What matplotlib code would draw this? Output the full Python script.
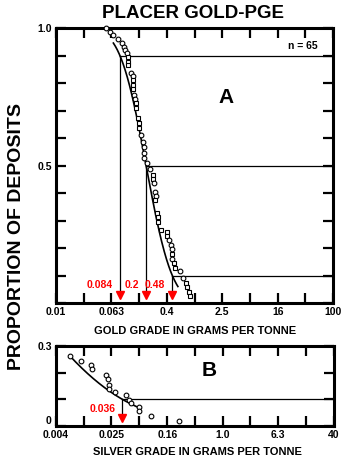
import math
import numpy as np
import matplotlib
matplotlib.use("Agg")
import matplotlib.pyplot as plt

plt.rcParams['font.family'] = ['Liberation Sans', 'DejaVu Sans']
plt.rcParams['font.weight'] = 'bold'

# ---------------- data: panel A (gold) ----------------
gold_grade = [0.0527, 0.0603, 0.0671, 0.0794, 0.0889, 0.0959, 0.0991, 0.105, 0.108, 0.111,
              0.108, 0.120, 0.128, 0.131, 0.128, 0.131, 0.135, 0.138, 0.143, 0.142,
              0.154, 0.160, 0.160, 0.169, 0.179, 0.187, 0.188, 0.188, 0.204, 0.228,
              0.249, 0.254, 0.260, 0.269, 0.275, 0.269, 0.290, 0.294, 0.294, 0.328,
              0.397, 0.397, 0.429, 0.453, 0.469, 0.478, 0.469, 0.511, 0.522, 0.618,
              0.689, 0.746, 0.771, 0.841, 0.861]
gold_prop = [1.000, 0.987, 0.975, 0.959, 0.947, 0.932, 0.920, 0.908, 0.896, 0.878,
             0.865, 0.837, 0.825, 0.811, 0.793, 0.777, 0.756, 0.741, 0.726, 0.708,
             0.672, 0.653, 0.635, 0.611, 0.587, 0.568, 0.544, 0.526, 0.508, 0.486,
             0.465, 0.450, 0.435, 0.405, 0.389, 0.375, 0.328, 0.314, 0.296, 0.265,
             0.259, 0.244, 0.229, 0.211, 0.195, 0.178, 0.159, 0.144, 0.126, 0.117,
             0.090, 0.074, 0.059, 0.041, 0.025]
gold_shape = "oooooooosssoosssoosssssooooooossooosssssssooosossoossss"
gold_pct_values = [0.084, 0.2, 0.48]
gold_pct_props = [0.9, 0.5, 0.1]
gold_pct_labels = ["0.084", "0.2", "0.48"]
gold_ticks = [0.01, 0.063, 0.4, 2.5, 16, 100]
gold_ticklabels = ["0.01", "0.063", "0.4", "2.5", "16", "100"]
gold_n = 65

# ---------------- data: panel B (silver) ----------------
silver_grade = [0.00636, 0.00901, 0.01275, 0.01305, 0.02097, 0.0224, 0.02293, 0.02339,
                0.02826, 0.04066, 0.0442, 0.048, 0.0636, 0.0636, 0.0931, 0.2355]
silver_prop = [0.2625, 0.2448, 0.2287, 0.2156, 0.1912, 0.1781, 0.1537, 0.1406,
               0.1286, 0.1162, 0.0975, 0.0874, 0.0712, 0.0562, 0.0364, 0.0206]
silver_pct_value = 0.036
silver_pct_prop = 0.1
silver_pct_label = "0.036"
silver_fit_mu = -2.94     # log10 mean of fitted lognormal
silver_fit_sigma = 1.168  # log10 sd of fitted lognormal
silver_ticks = [0.004, 0.025, 0.16, 1.0, 6.3, 40]
silver_ticklabels = ["0.004", "0.025", "0.16", "1.0", "6.3", "40"]

RED = '#ff0000'
W, H = 358, 470
fig = plt.figure(figsize=(W / 100, H / 100), dpi=100)


def px_axes(l, t, r, b):
    return fig.add_axes([l / W, 1 - b / H, (r - l) / W, (b - t) / H])


def all_ticks(major):
    t = []
    for a, b in zip(major[:-1], major[1:]):
        t += [a, math.sqrt(a * b)]
    t.append(major[-1])
    return t


def style_axes(ax, major, labels, yt, ylabels, xlim, ylim):
    ax.set_xscale('log')
    ax.set_xlim(*xlim)
    ax.set_ylim(*ylim)
    ticks = all_ticks(major)
    ax.set_xticks(ticks)
    lab = []
    for t in ticks:
        lab.append(labels[major.index(t)] if t in major else '')
    ax.set_xticklabels(lab)
    ax.minorticks_off()
    ax.set_yticks(yt)
    ax.set_yticklabels(ylabels)
    for s in ax.spines.values():
        s.set_linewidth(2.2)
    ax.tick_params(direction='in', length=7, width=1.6, top=True, right=True,
                   labelsize=7.5, pad=3)
    for t in ax.get_xticklabels() + ax.get_yticklabels():
        t.set_fontweight('bold')


def lognormal_curve(mu, sigma, z0, z1):
    z = np.linspace(z0, z1, 200)
    x = 10 ** (mu + sigma * z)
    p = 0.5 * np.array([math.erfc(v / math.sqrt(2)) for v in z])
    return x, p


# ---------------- panel A ----------------
axA = px_axes(56, 28, 333, 303)
style_axes(axA, gold_ticks, gold_ticklabels,
           [round(0.1 * i, 1) for i in range(11)],
           ['', '', '', '', '', '0.5', '', '', '', '', '1.0'],
           (gold_ticks[0], gold_ticks[-1]), (0, 1))

mu = math.log10(gold_pct_values[1])
sig = (math.log10(gold_pct_values[2]) - math.log10(gold_pct_values[0])) / (2 * 1.2816)
cx, cy = lognormal_curve(mu, sig, -1.6, 1.555)
axA.plot(cx, cy, color='black', lw=1.2)

for g, p, m in zip(gold_grade, gold_prop, gold_shape):
    axA.plot([g], [p], linestyle='none', marker=m, ms=3.2 if m == 's' else 3.4,
             mfc='white', mec='black', mew=0.8, clip_on=False, zorder=3)

for v, p, lab in zip(gold_pct_values, gold_pct_props, gold_pct_labels):
    axA.plot([v, gold_ticks[-1]], [p, p], color='black', lw=0.9)
    axA.plot([v, v], [0.03, p], color='black', lw=0.9)
    axA.plot([v], [0.03], marker='v', ms=6, color=RED, linestyle='none', zorder=4)
    axA.annotate(lab, xy=(v, 0.065), xytext=(-5, 0), textcoords='offset points',
                 ha='right', va='center', color=RED, fontsize=7.5, fontweight='bold')

axA.text(0.892, 0.936, 'n = %d' % gold_n, transform=axA.transAxes, ha='center',
         va='center', fontsize=7.5, fontweight='bold')
axA.text(0.614, 0.747, 'A', transform=axA.transAxes, ha='center', va='center',
         fontsize=15, fontweight='bold')

# ---------------- panel B ----------------
axB = px_axes(56, 346, 334, 426)
style_axes(axB, silver_ticks, silver_ticklabels,
           [0, 0.1, 0.2, 0.3], ['0', '', '', '0.3'],
           (silver_ticks[0], silver_ticks[-1]), (0, 0.3))
axB.get_yticklabels()[0].set_verticalalignment('bottom')

bx, by = lognormal_curve(silver_fit_mu, silver_fit_sigma, 0.637, 1.50)
axB.plot(bx, by, color='black', lw=1.2)
axB.plot(silver_grade, silver_prop, linestyle='none', marker='o', ms=3.4,
         mfc='white', mec='black', mew=0.8, zorder=3, clip_on=False)
axB.plot([silver_pct_value, silver_ticks[-1]], [silver_pct_prop, silver_pct_prop],
         color='black', lw=0.9)
axB.plot([silver_pct_value, silver_pct_value], [0.03, silver_pct_prop], color='black', lw=0.9)
axB.plot([silver_pct_value], [0.03], marker='v', ms=6, color=RED, linestyle='none', zorder=4)
axB.annotate(silver_pct_label, xy=(silver_pct_value, 0.064), xytext=(-5, 0),
             textcoords='offset points', ha='right', va='center', color=RED,
             fontsize=7.5, fontweight='bold')
axB.text(0.55, 0.70, 'B', transform=axB.transAxes, ha='center', va='center',
         fontsize=15, fontweight='bold')

# ---------------- figure texts ----------------
fig.text(192.5 / W, 1 - 13.5 / H, 'PLACER GOLD-PGE', ha='center', va='center',
         fontsize=13.5, fontweight='bold')
fig.text(17 / W, 1 - 237 / H, 'PROPORTION OF DEPOSITS', rotation=90, ha='center',
         va='center', fontsize=14, fontweight='bold')
fig.text(195 / W, 1 - 331 / H, 'GOLD GRADE IN GRAMS PER TONNE', ha='center',
         va='center', fontsize=8, fontweight='bold')
fig.text(197 / W, 1 - 452 / H, 'SILVER GRADE IN GRAMS PER TONNE', ha='center',
         va='center', fontsize=8, fontweight='bold')

fig.savefig('out.png', dpi=100, facecolor='white')
